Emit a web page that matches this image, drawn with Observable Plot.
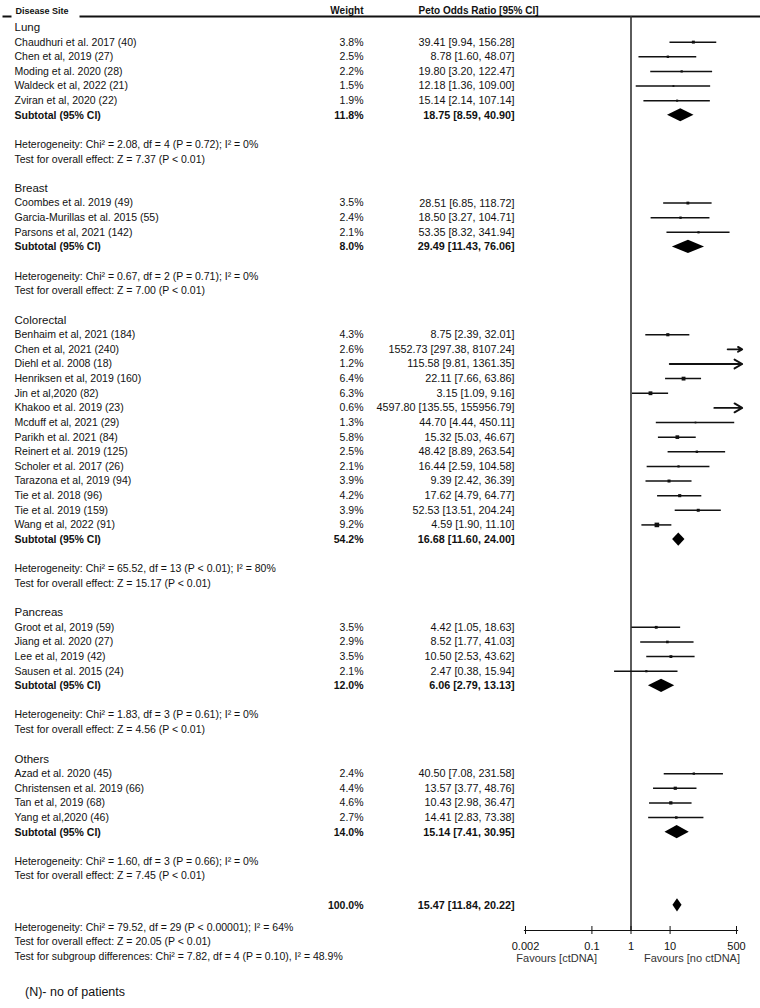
<!DOCTYPE html>
<html>
<head>
<meta charset="utf-8">
<script src="https://cdn.jsdelivr.net/npm/d3@7"></script>
<script src="https://cdn.jsdelivr.net/npm/@observablehq/plot@0.6"></script>
<style>
  html, body { margin: 0; padding: 0; background: #fff; }
  body { font-family: "Liberation Sans", Arial, sans-serif; width: 760px; }
  svg { display: block; }
  #note { font-size: 12.5px; line-height: 15px; margin: 7px 0 0 25px; color: #111; }
</style>
</head>
<body>
<script>
// ---------------- DATA ----------------
const groupNames = ["Lung", "Breast", "Colorectal", "Pancreas", "Others"];

const studyLabels = [
  "Chaudhuri et al. 2017 (40)", "Chen et al, 2019 (27)", "Moding et al. 2020 (28)", "Waldeck et al, 2022 (21)", "Zviran et al, 2020 (22)",
  "Coombes et al. 2019 (49)", "Garcia-Murillas et al. 2015 (55)", "Parsons et al, 2021 (142)",
  "Benhaim et al, 2021 (184)", "Chen et al, 2021 (240)", "Diehl et al. 2008 (18)", "Henriksen et al, 2019 (160)", "Jin et al,2020 (82)",
  "Khakoo et al. 2019 (23)", "Mcduff et al, 2021 (29)", "Parikh et al. 2021 (84)", "Reinert et al. 2019 (125)", "Scholer et al. 2017 (26)",
  "Tarazona et al, 2019 (94)", "Tie et al. 2018 (96)", "Tie et al. 2019 (159)", "Wang et al, 2022 (91)",
  "Groot et al, 2019 (59)", "Jiang et al. 2020 (27)", "Lee et al, 2019 (42)", "Sausen et al. 2015 (24)",
  "Azad et al. 2020 (45)", "Christensen et al. 2019 (66)", "Tan et al, 2019 (68)", "Yang et al,2020 (46)"
];
const studyGroup = [0,0,0,0,0, 1,1,1, 2,2,2,2,2,2,2,2,2,2,2,2,2,2, 3,3,3,3, 4,4,4,4];
const studyWeight = [3.8, 2.5, 2.2, 1.5, 1.9, 3.5, 2.4, 2.1, 4.3, 2.6, 1.2, 6.4, 6.3, 0.6, 1.3, 5.8, 2.5, 2.1, 3.9, 4.2, 3.9, 9.2, 3.5, 2.9, 3.5, 2.1, 2.4, 4.4, 4.6, 2.7];
const studyOR = [39.41, 8.78, 19.80, 12.18, 15.14, 28.51, 18.50, 53.35, 8.75, 1552.73, 115.58, 22.11, 3.15, 4597.80, 44.70, 15.32, 48.42, 16.44, 9.39, 17.62, 52.53, 4.59, 4.42, 8.52, 10.50, 2.47, 40.50, 13.57, 10.43, 14.41];
const studyLower = [9.94, 1.60, 3.20, 1.36, 2.14, 6.85, 3.27, 8.32, 2.39, 297.38, 9.81, 7.66, 1.09, 135.55, 4.44, 5.03, 8.89, 2.59, 2.42, 4.79, 13.51, 1.90, 1.05, 1.77, 2.53, 0.38, 7.08, 3.77, 2.98, 2.83];
const studyUpper = [156.28, 48.07, 122.47, 109.00, 107.14, 118.72, 104.71, 341.94, 32.01, 8107.24, 1361.35, 63.86, 9.16, 155956.79, 450.11, 46.67, 263.54, 104.58, 36.39, 64.77, 204.24, 11.10, 18.63, 41.03, 43.62, 15.94, 231.58, 48.76, 36.47, 73.38];

const subtotalWeight = [11.8, 8.0, 54.2, 12.0, 14.0];
const subtotalOR = [18.75, 29.49, 16.68, 6.06, 15.14];
const subtotalLower = [8.59, 11.43, 11.60, 2.79, 7.41];
const subtotalUpper = [40.90, 76.06, 24.00, 13.13, 30.95];
const heterogeneity = [
  "Heterogeneity: Chi² = 2.08, df = 4 (P = 0.72); I² = 0%",
  "Heterogeneity: Chi² = 0.67, df = 2 (P = 0.71); I² = 0%",
  "Heterogeneity: Chi² = 65.52, df = 13 (P < 0.01); I² = 80%",
  "Heterogeneity: Chi² = 1.83, df = 3 (P = 0.61); I² = 0%",
  "Heterogeneity: Chi² = 1.60, df = 3 (P = 0.66); I² = 0%"
];
const overallEffect = [
  "Test for overall effect: Z = 7.37 (P < 0.01)",
  "Test for overall effect: Z = 7.00 (P < 0.01)",
  "Test for overall effect: Z = 15.17 (P < 0.01)",
  "Test for overall effect: Z = 4.56 (P < 0.01)",
  "Test for overall effect: Z = 7.45 (P < 0.01)"
];

const totalWeight = 100.0;
const totalOR = 15.47;
const totalLower = 11.84;
const totalUpper = 20.22;
const totalNotes = [
  "Heterogeneity: Chi² = 79.52, df = 29 (P < 0.00001); I² = 64%",
  "Test for overall effect: Z = 20.05 (P < 0.01)",
  "Test for subgroup differences: Chi² = 7.82, df = 4 (P = 0.10), I² = 48.9%"
];

const columnHeaders = ["Disease Site", "Weight", "Peto Odds Ratio [95% CI]"];
const subtotalLabel = "Subtotal (95% CI)";
const xTicks = [0.002, 0.1, 1, 10, 500];
const xTickLabels = ["0.002", "0.1", "1", "10", "500"];
const favourLabels = ["Favours [ctDNA]", "Favours [no ctDNA]"];
const footnote = "(N)- no of patients";

// ---------------- LAYOUT ----------------
const W = 760, H = 978;
const frameTop = 16, axisY = 930;
const xRange = [525, 736];
const rowRange = [27, 956];
const colName = 14, colWeight = 363, colEst = 514, colEstHeader = 418;
const nullEffect = 1;
const xMax = xTicks[xTicks.length - 1];
const xClip = 700;   // where clipped CI arrows end
const font = "'Liberation Sans', Arial, sans-serif";

// ---------------- ROWS ----------------
const fmtW = d => d.weight.toFixed(1) + "%";
const fmtE = d => `${d.or.toFixed(2)} [${d.lo.toFixed(2)}, ${d.hi.toFixed(2)}]`;

const headings = [], studies = [], subtotals = [], notes = [];
let r = 0;
groupNames.forEach((g, gi) => {
  headings.push({row: r++, label: g});
  studyLabels.forEach((s, i) => {
    if (studyGroup[i] !== gi) return;
    studies.push({row: r++, label: s, weight: studyWeight[i], or: studyOR[i], lo: studyLower[i], hi: studyUpper[i]});
  });
  subtotals.push({row: r++, label: subtotalLabel, weight: subtotalWeight[gi], or: subtotalOR[gi], lo: subtotalLower[gi], hi: subtotalUpper[gi]});
  r++;
  notes.push({row: r++, label: heterogeneity[gi]});
  notes.push({row: r++, label: overallEffect[gi]});
  r++;
});
const total = {row: r, label: "", weight: totalWeight, or: totalOR, lo: totalLower, hi: totalUpper};
totalNotes.forEach((t, k) => notes.push({row: r + 1.5 + k, label: t}));
const lastRow = notes[notes.length - 1].row;

const diamonds = [...subtotals, total];
const diamondPts = diamonds.flatMap((d, k) => [
  {key: k, y: d.row - 0.45, x1: d.or, x2: d.or},
  {key: k, y: d.row, x1: d.lo, x2: d.hi},
  {key: k, y: d.row + 0.45, x1: d.or, x2: d.or}
]);
const inside = studies.filter(d => d.hi <= xMax);
const clipped = studies.filter(d => d.hi > xMax);
const boldRows = [...subtotals, total];
const tickData = xTicks.map((v, i) => ({v, label: xTickLabels[i]}));

const txt = {frameAnchor: "left", y: "row", fontSize: 10.5, fill: "#111"};
const est = {...txt, fontSize: 10.8};

const plot = Plot.plot({
  width: W, height: H,
  marginTop: frameTop, marginBottom: H - axisY, marginLeft: 0, marginRight: 0,
  style: {fontFamily: font, fontSize: "10.5px", color: "#111", background: "#fff"},
  x: {type: "log", domain: [xTicks[0], xMax], range: xRange, axis: null},
  y: {domain: [0, lastRow], range: rowRange, axis: null},
  r: {type: "sqrt", domain: [0, 9.2], range: [0, 2.6]},
  marks: [
    // header line (broken around the first column header)
    Plot.frame({anchor: "top", stroke: "#111", strokeWidth: 2, insetLeft: 80}),
    Plot.frame({anchor: "top", stroke: "#111", strokeWidth: 2, insetLeft: 3, insetRight: W - 10}),
    // headers
    Plot.text([columnHeaders[0]], {frameAnchor: "top-left", lineAnchor: "middle", dx: colName + 1, dy: -5, text: d => d, textAnchor: "start", fontWeight: "bold", fontSize: 9, fill: "#111"}),
    Plot.text([columnHeaders[1]], {frameAnchor: "top-left", lineAnchor: "middle", dx: colWeight, dy: -6, text: d => d, textAnchor: "end", fontWeight: "bold", fontSize: 10, fill: "#111"}),
    Plot.text([columnHeaders[2]], {frameAnchor: "top-left", lineAnchor: "middle", dx: colEstHeader, dy: -6, text: d => d, textAnchor: "start", fontWeight: "bold", fontSize: 10, fill: "#111"}),
    // line of no effect
    Plot.ruleX([nullEffect], {stroke: "#333", strokeWidth: 1.6}),
    // axis
    Plot.frame({anchor: "bottom", stroke: "#111", strokeWidth: 1.2, insetLeft: xRange[0] - 1, insetRight: W - xRange[1] - 1}),
    Plot.axisX(xTicks, {anchor: "bottom", tickSize: 8, dy: -4, fill: "none", label: null, stroke: "#111"}),
    Plot.text(tickData, {x: "v", text: "label", frameAnchor: "bottom", lineAnchor: "middle", dy: 16, fontSize: 11, fill: "#111"}),
    Plot.text([favourLabels[0]], {x: () => nullEffect, frameAnchor: "bottom", lineAnchor: "middle", dx: -34, dy: 28, text: d => d, textAnchor: "end", fontSize: 11, fill: "#333"}),
    Plot.text([favourLabels[1]], {x: () => nullEffect, frameAnchor: "bottom", lineAnchor: "middle", dx: 13, dy: 28, text: d => d, textAnchor: "start", fontSize: 11, fill: "#333"}),
    // study CIs
    Plot.ruleY(inside, {y: "row", x1: "lo", x2: "hi", stroke: "#111", strokeWidth: 1.5}),
    Plot.arrow(clipped, {x1: "lo", x2: () => xClip, y1: "row", y2: "row", stroke: "#111", strokeWidth: 1.9, headLength: 7}),
    Plot.dot(studies.filter(d => d.or <= xMax), {x: "or", y: "row", r: "weight", symbol: "square", fill: "#111", stroke: "none"}),
    // pooled diamonds
    Plot.areaX(diamondPts, {y: "y", x1: "x1", x2: "x2", z: "key", fill: "#000", curve: "linear"}),
    // text columns
    Plot.text(headings, {...txt, text: "label", dx: colName, textAnchor: "start", fontSize: 11.5}),
    Plot.text(studies, {...txt, text: "label", dx: colName, textAnchor: "start"}),
    Plot.text(subtotals, {...txt, text: "label", dx: colName, textAnchor: "start", fontWeight: "bold"}),
    Plot.text(notes, {...txt, text: "label", dx: colName, textAnchor: "start"}),
    Plot.text(studies, {...txt, text: fmtW, dx: colWeight, textAnchor: "end"}),
    Plot.text(boldRows, {...txt, text: fmtW, dx: colWeight, textAnchor: "end", fontWeight: "bold"}),
    Plot.text(studies, {...est, text: fmtE, dx: colEst, textAnchor: "end"}),
    Plot.text(boldRows, {...est, text: fmtE, dx: colEst, textAnchor: "end", fontWeight: "bold"})
  ]
});
document.body.append(plot);
const note = document.createElement("div");
note.id = "note";
note.textContent = footnote;
document.body.append(note);
</script>
</body>
</html>
